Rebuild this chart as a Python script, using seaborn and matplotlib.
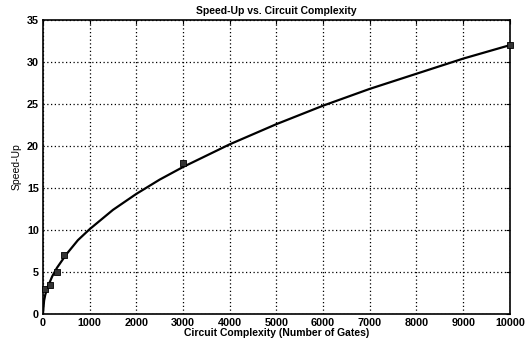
import matplotlib
matplotlib.use("Agg")
import matplotlib.pyplot as plt
import seaborn as sns

# curve
curve_x = [0, 25, 50, 100, 200, 300, 500, 750, 1000, 1500, 2000, 2500,
           3000, 4000, 5000, 6000, 7000, 8000, 9000, 10000]
curve_y = [0, 1.6, 2.3, 3.2, 4.5, 5.5, 7.1, 8.8, 10.1, 12.4, 14.3, 16.0,
           17.5, 20.2, 22.6, 24.8, 26.8, 28.6, 30.4, 32.0]

# measured points
gates = [50, 150, 300, 450, 3000, 10000]
speedup = [3.0, 3.5, 5.0, 7.0, 18.0, 32.0]

x_ticks = [0, 1000, 2000, 3000, 4000, 5000, 6000, 7000, 8000, 9000, 10000]
y_ticks = [0, 5, 10, 15, 20, 25, 30, 35]

sns.set_style("white")
plt.rcParams["font.family"] = ["Liberation Sans", "DejaVu Sans"]
plt.rcParams["text.color"] = "black"
plt.rcParams["axes.labelcolor"] = "black"
plt.rcParams["xtick.color"] = "black"
plt.rcParams["ytick.color"] = "black"

fig = plt.figure(figsize=(5.3, 3.44), dpi=100)
ax = fig.add_axes([0.081, 0.087, 0.881, 0.855])

sns.lineplot(x=curve_x, y=curve_y, color="black", linewidth=1.6, ax=ax)
sns.scatterplot(x=gates, y=speedup, marker="s", s=14, color="#333333",
                edgecolor="black", linewidth=0.6, ax=ax, zorder=3,
                clip_on=False)

ax.set_xlim(0, 10000)
ax.set_ylim(0, 35)
ax.set_xticks(x_ticks)
ax.set_yticks(y_ticks)
ax.grid(True, linestyle=(0, (1, 2)), color="black", linewidth=0.9)
ax.tick_params(direction="in", length=3, labelsize=7.8, top=True, right=True,
               pad=3)
for lbl in ax.get_xticklabels() + ax.get_yticklabels():
    lbl.set_fontweight("bold")
for sp in ax.spines.values():
    sp.set_color("black")
    sp.set_linewidth(1.2)

ax.set_title("Speed-Up vs. Circuit Complexity", fontsize=7.5,
             fontweight="bold", pad=4)
ax.set_xlabel("Circuit Complexity (Number of Gates)", fontsize=7.5,
              fontweight="bold", labelpad=0)
ax.set_ylabel("Speed-Up", fontsize=7.5, labelpad=4)

fig.savefig("out.png", dpi=100)
